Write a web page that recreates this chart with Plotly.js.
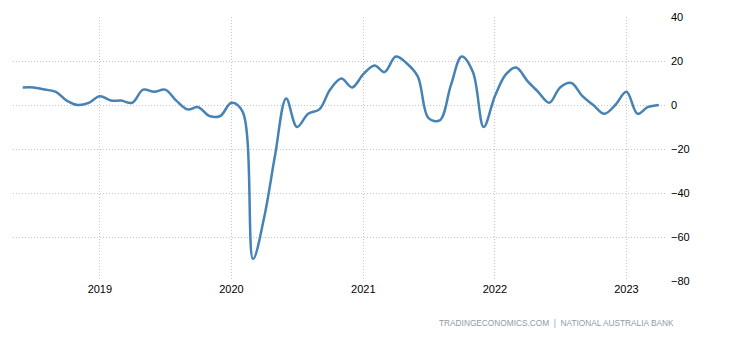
<!DOCTYPE html>
<html>
<head>
<meta charset="utf-8">
<script src="https://cdn.plot.ly/plotly-3.0.1.min.js"></script>
<style>
html,body{margin:0;padding:0;background:#fff;}
#chart{width:732px;height:342px;}
</style>
</head>
<body>
<div id="chart"></div>
<script>
var months = [
  "2018-06-01","2018-07-01","2018-08-01","2018-09-01","2018-10-01","2018-11-01","2018-12-01",
  "2019-01-01","2019-02-01","2019-03-01","2019-04-01","2019-05-01","2019-06-01",
  "2019-07-01","2019-08-01","2019-09-01","2019-10-01","2019-11-01","2019-12-01",
  "2020-01-01","2020-02-01","2020-03-01","2020-04-01","2020-05-01","2020-06-01",
  "2020-07-01","2020-08-01","2020-09-01","2020-10-01","2020-11-01","2020-12-01",
  "2021-01-01","2021-02-01","2021-03-01","2021-04-01","2021-05-01","2021-06-01",
  "2021-07-01","2021-08-01","2021-09-01","2021-10-01","2021-11-01","2021-12-01",
  "2022-01-01","2022-02-01","2022-03-01","2022-04-01","2022-05-01","2022-06-01",
  "2022-07-01","2022-08-01","2022-09-01","2022-10-01","2022-11-01","2022-12-01",
  "2023-01-01","2023-02-01","2023-03-01","2023-04-01"
];
var confidence = [
  8, 8, 7, 6, 2, 0, 1,
  4, 2, 2, 1, 7, 6,
  7, 2, -2, -1, -5, -5,
  1, -3, -70, -51, -23, 3,
  -10, -4, -2, 7, 12, 8,
  14, 18, 15, 22, 19, 13,
  -6, -7, 9, 22, 15, -10,
  4, 14, 17, 11, 6, 1,
  8, 10, 4, 0, -4, 0,
  6, -4, -1, 0
];
var yTicks = [-80, -60, -40, -20, 0, 20, 40];
var xTickDates = ["2019-01-01","2020-01-01","2021-01-01","2022-01-01","2023-01-01"];
var xTickLabels = ["2019","2020","2021","2022","2023"];
var sourceText = "TRADINGECONOMICS.COM  |  NATIONAL AUSTRALIA BANK";

var trace = {
  x: months,
  y: confidence,
  type: "scatter",
  mode: "lines",
  line: {color: "#4682b4", width: 2.5, shape: "spline", smoothing: 1},
  hoverinfo: "x+y"
};

var layout = {
  width: 732,
  height: 342,
  margin: {l: 13, r: 67, t: 17, b: 61},
  paper_bgcolor: "#ffffff",
  plot_bgcolor: "#ffffff",
  showlegend: false,
  font: {family: "Liberation Sans, Arial, sans-serif", size: 11, color: "#000"},
  xaxis: {
    type: "date",
    range: ["2018-05-05", "2023-04-18"],
    tickvals: xTickDates,
    ticktext: xTickLabels,
    showgrid: true,
    gridcolor: "#c4c4c4",
    griddash: "1px,2px",
    gridwidth: 1,
    zeroline: false,
    showline: false,
    ticks: "",
    tickfont: {size: 11, color: "#000"}
  },
  yaxis: {
    side: "right",
    range: [-80, 40],
    tickvals: yTicks,
    showgrid: true,
    gridcolor: "#c4c4c4",
    griddash: "1px,2px",
    gridwidth: 1,
    zeroline: false,
    showline: false,
    ticks: "",
    ticklabelstandoff: 5,
    tickfont: {size: 11, color: "#000"}
  },
  annotations: [{
    text: sourceText,
    xref: "paper", yref: "paper",
    x: 1.017, y: -0.16,
    xanchor: "right", yanchor: "middle",
    showarrow: false,
    font: {size: 8.3, color: "#8e9aa6", family: "Liberation Sans, Arial, sans-serif"}
  }]
};

Plotly.newPlot("chart", [trace], layout, {displayModeBar: false, staticPlot: true});
</script>
</body>
</html>
